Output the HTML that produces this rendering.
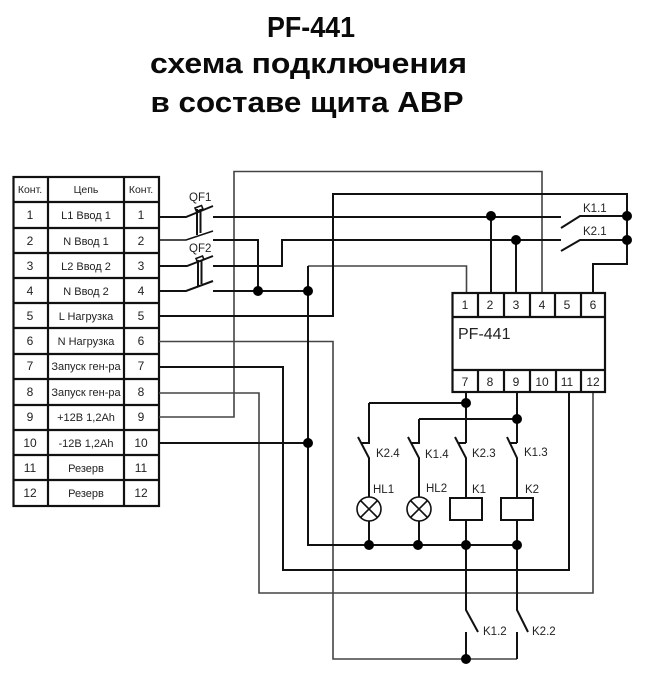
<!DOCTYPE html>
<html><head><meta charset="utf-8"><style>
html,body{margin:0;padding:0;background:#fff}
svg{display:block}
text{font-family:"Liberation Sans",sans-serif;fill:#222}
.t{font-weight:bold;font-size:29px;fill:#0a0a0a;text-anchor:middle}
.s{font-size:10.5px;text-anchor:middle}
.m{font-size:12px;text-anchor:middle}
.l{font-size:11.5px}
.k{fill:none;stroke:#111;stroke-width:2}
.g{fill:none;stroke:#444;stroke-width:1.6}
.d{fill:none;stroke:#111;stroke-width:1.6}
.b{fill:none;stroke:#111;stroke-width:2.2}
</style></head><body>
<svg width="652" height="677" viewBox="0 0 652 677" xmlns="http://www.w3.org/2000/svg">
<text class="t" x="311" y="37" textLength="88" lengthAdjust="spacingAndGlyphs">PF-441</text>
<text class="t" x="308.500" y="73" textLength="317" lengthAdjust="spacingAndGlyphs">схема подключения</text>
<text class="t" x="307" y="112" textLength="313" lengthAdjust="spacingAndGlyphs">в составе щита АВР</text>

<!-- table -->
<g class="b">
<rect x="13.500" y="177" width="145.500" height="329"/>
<path d="M48 177V506M124 177V506M13 202H159M13 228H159M13 253H159M13 278H159M13 303H159M13 328H159M13 354H159M13 379H159M13 405H159M13 430H159M13 455H159M13 480H159"/>
</g>
<g class="s">
<text x="30" y="193">Конт.</text><text x="86" y="193">Цепь</text><text x="141" y="193">Конт.</text>
</g>
<g class="m">
<text x="30" y="219">1</text><text x="86" y="219" style="font-size:11px">L1 Ввод 1</text><text x="141" y="219">1</text>
<text x="30" y="245">2</text><text x="86" y="245" style="font-size:11px">N Ввод 1</text><text x="141" y="245">2</text>
<text x="30" y="270">3</text><text x="86" y="270" style="font-size:11px">L2 Ввод 2</text><text x="141" y="270">3</text>
<text x="30" y="295">4</text><text x="86" y="295" style="font-size:11px">N Ввод 2</text><text x="141" y="295">4</text>
<text x="30" y="320">5</text><text x="86" y="320" style="font-size:11px">L Нагрузка</text><text x="141" y="320">5</text>
<text x="30" y="345">6</text><text x="86" y="345" style="font-size:11px">N Нагрузка</text><text x="141" y="345">6</text>
<text x="30" y="370">7</text><text x="86" y="370" style="font-size:11px">Запуск ген-ра</text><text x="141" y="370">7</text>
<text x="30" y="396">8</text><text x="86" y="396" style="font-size:11px">Запуск ген-ра</text><text x="141" y="396">8</text>
<text x="30" y="421">9</text><text x="86" y="421" style="font-size:11px">+12В 1,2Ah</text><text x="141" y="421">9</text>
<text x="30" y="447">10</text><text x="86" y="447" style="font-size:11px">-12В 1,2Ah</text><text x="141" y="447">10</text>
<text x="30" y="472">11</text><text x="86" y="472" style="font-size:11px">Резерв</text><text x="141" y="472">11</text>
<text x="30" y="497">12</text><text x="86" y="497" style="font-size:11px">Резерв</text><text x="141" y="497">12</text>
</g>

<!-- grey wires -->
<path class="g" d="M159 417H234V171.500H542V293"/>
<path class="g" d="M159 341.500H333V659H517"/>
<path class="g" d="M159 393H259V593H593V392"/>
<path class="g" d="M308 266H466.500V293"/>

<!-- black wires -->
<path class="k" d="M159 217H186L213 206"/>
<path class="d" d="M159 240H186L213 231"/>
<path class="k" d="M159 266H187L213 256"/>
<path class="k" d="M159 291H186L213 281"/>
<path class="k" d="M213 217H561M213 240H258V291"/>
<path class="k" d="M213 266H282V240H561"/>
<path class="k" d="M213 291H308M308 266V545H369"/>
<path class="k" d="M159 316H333V194H627V264H593V293"/>
<path class="k" d="M159 367H283V570H569V392"/>
<path class="k" d="M159 443H308"/>
<path class="k" d="M491 217V293M516 240V293"/>
<path class="k" d="M561 228L580 216H627M561 251L580 240H627"/>
<!-- breaker links -->
<path class="k" d="M197 209V235M200.500 209V233"/>
<path class="d" d="M195 208L201.500 205.500L203 209L196.500 211.500Z"/>
<path class="k" d="M198 260V286M201.500 260V284"/>
<path class="d" d="M196 258.500L202.500 256L204 259.500L197.500 262Z"/>

<!-- PF-441 block -->
<rect x="452.500" y="293" width="152.500" height="99" fill="#fff" stroke="#111" stroke-width="2.200"/>
<path class="b" d="M452 317H605M452 370H605M478 293V317M504 293V317M530 293V317M555 293V317M581 293V317M478 370V392M504 370V392M530 370V392M556 370V392M581 370V392"/>
<g class="m">
<text x="465" y="309">1</text><text x="490" y="309">2</text><text x="516" y="309">3</text><text x="542" y="309">4</text><text x="567" y="309">5</text><text x="593" y="309">6</text>
<text x="465" y="386">7</text><text x="490" y="386">8</text><text x="516" y="386">9</text><text x="542" y="386">10</text><text x="567" y="386">11</text><text x="593" y="386">12</text>
</g>
<text x="458" y="339" style="font-size:16px">PF-441</text>

<!-- lower circuit -->
<path class="k" d="M466 392V443M369 403H466M369 403V443H361M358 437L369 458V497M369 521V545"/>
<path class="k" d="M517 392V443M419 419H517M419 419V443H411M408 437L419 458V497M419 521V545"/>
<path class="k" d="M466 443H458M455 437L466 458V498M466 520V610L478 632M466 632V659"/>
<path class="k" d="M517 443H509M507 437L517 458V498M517 520V610L528 632"/>
<path class="k" d="M369 545H517"/>
<path class="k" d="M517 632V659"/>
<circle class="d" cx="369" cy="509" r="12" fill="#fff"/>
<path class="d" d="M360.500 500.500L377.500 517.500M377.500 500.500L360.500 517.500"/>
<circle class="d" cx="419" cy="509" r="12" fill="#fff"/>
<path class="d" d="M410.500 500.500L427.500 517.500M427.500 500.500L410.500 517.500"/>
<rect class="k" x="450" y="498" width="32" height="22" fill="#fff"/>
<rect class="k" x="501" y="498" width="32" height="22" fill="#fff"/>

<!-- dots -->
<g fill="#000">
<circle cx="258" cy="291" r="5"/><circle cx="308" cy="291" r="5"/><circle cx="308" cy="443" r="5"/>
<circle cx="491" cy="216" r="5"/><circle cx="516" cy="240" r="5"/>
<circle cx="627" cy="216" r="5"/><circle cx="627" cy="240" r="5"/>
<circle cx="466" cy="403" r="5"/><circle cx="517" cy="419" r="5"/>
<circle cx="369" cy="545" r="5"/><circle cx="418" cy="545" r="5"/><circle cx="466" cy="545" r="5"/><circle cx="517" cy="545" r="5"/>
<circle cx="466" cy="659" r="5"/>
</g>

<!-- labels -->
<g class="l">
<text x="189" y="201">QF1</text><text x="189" y="252">QF2</text>
<text x="583" y="212">K1.1</text><text x="583" y="235">K2.1</text>
<text x="376" y="457">K2.4</text><text x="425" y="458">K1.4</text><text x="472" y="457">K2.3</text><text x="524" y="456">K1.3</text>
<text x="373" y="493">HL1</text><text x="426" y="492">HL2</text><text x="472" y="493">K1</text><text x="525" y="493">K2</text>
<text x="483" y="635">K1.2</text><text x="532" y="635">K2.2</text>
</g>
</svg>
</body></html>
